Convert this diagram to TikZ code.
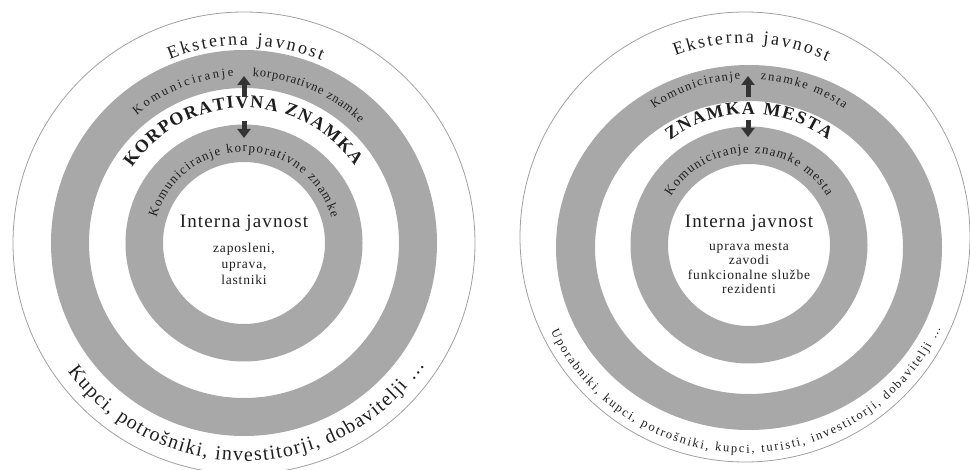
\documentclass[tikz,border=0pt]{standalone}
\usepackage{fontspec}
\setmainfont{Liberation Serif}
\newfontfamily\spacedfont[LetterSpace=6]{Liberation Serif}
\usetikzlibrary{decorations.text,arrows.meta,positioning}
\definecolor{ringgray}{HTML}{A8A8A8}
\definecolor{rimgray}{HTML}{A0A0A0}
\definecolor{inkgray}{HTML}{1E1E1E}
\definecolor{arrowgray}{HTML}{333333}

\begin{document}
\begin{tikzpicture}[x=1pt,y=1pt,
    ring/.style={fill=ringgray, even odd rule},
    rim/.style={draw=rimgray, line width=0.8pt},
    arctext/.style={decorate, decoration={text along path, text align=fit to path, text color=inkgray, text={#1}}},
    flow/.style={draw=arrowgray, line width=5pt, -{Triangle[width=13pt,length=9pt]}},
    title/.style={font=\spacedfont\fontsize{19}{22}\selectfont, text=inkgray, inner sep=0pt, anchor=base},
    members/.style={font=\spacedfont\fontsize{13.5}{#1}\selectfont, text=inkgray, align=center, inner sep=0pt}]
    \useasboundingbox (0,0) rectangle (970,469);

    % left: corporate brand
    \coordinate (L) at (244,226);
    \draw[rim] (L) circle[radius=231];
    \fill[ring] (L) circle[radius=193] (L) circle[radius=155];
    \fill[ring] (L) circle[radius=118.5] (L) circle[radius=81];
    \path[arctext={|\fontsize{18}{18}\selectfont|Eksterna javnost}]
        ([shift={(112:198)}]L) arc[start angle=112, end angle=67, radius=198];
    \path[arctext={|\fontsize{12.5}{12.5}\selectfont|Komuniciranje}]
        ([shift={(130:167)}]L) arc[start angle=130, end angle=93.5, radius=167];
    \path[arctext={|\fontsize{12.5}{12.5}\selectfont|korporativne znamke}]
        ([shift={(87:167)}]L) arc[start angle=87, end angle=46, radius=167];
    \path[arctext={|\bfseries\fontsize{18}{18}\selectfont|KORPORATIVNA ZNAMKA}]
        ([shift={(146:135)}]L) arc[start angle=146, end angle=35, radius=135];
    \path[arctext={|\fontsize{13}{13}\selectfont|Komuniciranje korporativne znamke}]
        ([shift={(164:91)}]L) arc[start angle=164, end angle=16, radius=91];
    \path[arctext={|\fontsize{20}{20}\selectfont|Kupci, potrošniki, investitorji, dobavitelji …}]
        ([shift={(216:218)}]L) arc[start angle=216, end angle=326, radius=218];
    \coordinate (upL-s) at (244,372);
    \coordinate (upL-e) at (244,393);
    \coordinate (dnL-s) at (244,348);
    \coordinate (dnL-e) at (244,331);
    \draw[flow] (upL-s) -- (upL-e);
    \draw[flow] (dnL-s) -- (dnL-e);
    \node[title] (intL) at (244,241) {Interna javnost};
    \node[members=16, below=11pt of intL] (memL) {zaposleni,\\uprava,\\lastniki};

    % right: place brand
    \coordinate (R) at (749,224);
    \coordinate (RE) at (749,221.5);
    \coordinate (RO) at (745,232);
    \draw[rim] (RO) circle[radius=225];
    \fill[ring] (RE) ellipse[x radius=193, y radius=182.5] (RE) ellipse[x radius=154, y radius=146.5];
    \fill[ring] (R) circle[radius=118.5] (R) circle[radius=81];
    \path[arctext={|\fontsize{18}{18}\selectfont|Eksterna javnost}]
        ([shift={(111:194)}]RO) arc[start angle=111, end angle=65, radius=194];
    \path[arctext={|\fontsize{12.5}{12.5}\selectfont|Komuniciranje}]
        ([shift={(125:166)}]R) arc[start angle=125, end angle=93, radius=166];
    \path[arctext={|\fontsize{12.5}{12.5}\selectfont|znamke mesta}]
        ([shift={(86:166)}]R) arc[start angle=86, end angle=55, radius=166];
    \path[arctext={|\bfseries\fontsize{18}{18}\selectfont|ZNAMKA MESTA}]
        ([shift={(127:131)}]R) arc[start angle=127, end angle=53, radius=131];
    \path[arctext={|\fontsize{13}{13}\selectfont|Komuniciranje znamke mesta}]
        ([shift={(148:92)}]R) arc[start angle=148, end angle=32, radius=92];
    \path[arctext={|\fontsize{12.5}{12.5}\selectfont|Uporabniki, kupci, potrošniki, kupci, turisti, investitorji, dobavitelji …}]
        ([shift={(206:216)}]RO) arc[start angle=206, end angle=335, radius=216];
    \coordinate (upR-s) at (748,372);
    \coordinate (upR-e) at (748,393);
    \coordinate (dnR-s) at (748,349);
    \coordinate (dnR-e) at (748,332);
    \draw[flow] (upR-s) -- (upR-e);
    \draw[flow] (dnR-s) -- (dnR-e);
    \node[title] (intR) at (749,241) {Interna javnost};
    \node[members=14.5, below=10pt of intR] (memR) {uprava mesta\\zavodi\\funkcionalne službe\\rezidenti};
\end{tikzpicture}
\end{document}
